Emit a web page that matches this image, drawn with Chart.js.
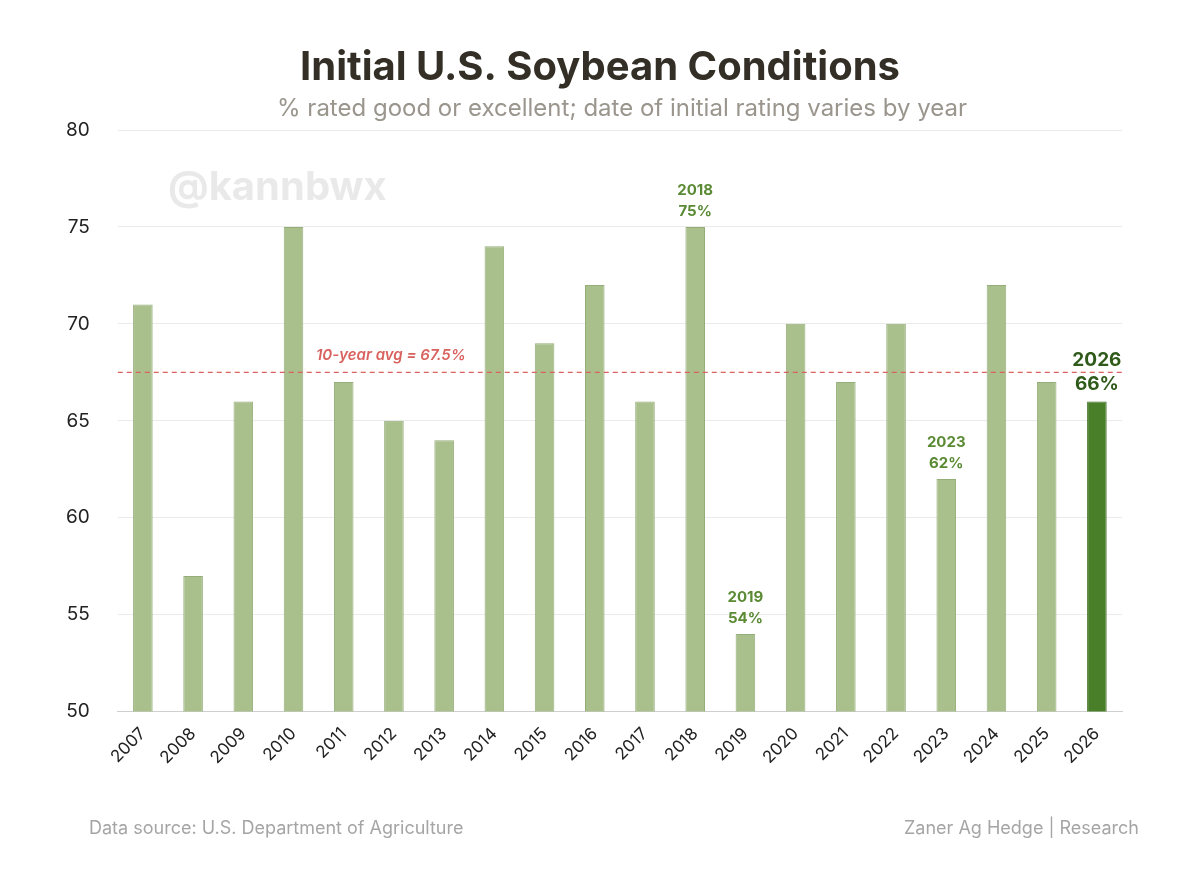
<!DOCTYPE html>
<html><head><meta charset="utf-8">
<script src="https://cdn.jsdelivr.net/npm/chart.js@4"></script>
<style>
html,body{margin:0;padding:0;background:#fff;}
#wrap{position:relative;width:1200px;height:870px;}
canvas{position:absolute;left:0;top:0;}
</style></head><body>
<div id="wrap"><canvas id="c" width="1200" height="870"></canvas></div>
<script>
const years = ["2007","2008","2009","2010","2011","2012","2013","2014","2015","2016","2017","2018","2019","2020","2021","2022","2023","2024","2025","2026"];
const values = [71,57,66,75,67,65,64,74,69,72,66,75,54,70,67,70,62,72,67,66];
const average = 67.5;
const yTicks = [50,55,60,65,70,75,80];
const highlighted = ["2018","2019","2023"];
const FONT = "Inter, 'Noto Sans', sans-serif";

const overlay = {
  id:'overlay',
  afterDraw(chart){
    const {ctx, scales:{x,y}, chartArea:a} = chart;
    ctx.save();
    ctx.fillStyle='rgba(200,200,200,0.4)';
    ctx.font='bold 40px '+FONT; ctx.textAlign='left'; ctx.textBaseline='middle';
    ctx.fillText('@kannbwx',168,188);
    const ya=y.getPixelForValue(average);
    ctx.strokeStyle='#d9625e'; ctx.lineWidth=1.3; ctx.setLineDash([5,4]);
    ctx.beginPath(); ctx.moveTo(a.left,ya); ctx.lineTo(a.right,ya); ctx.stroke();
    ctx.setLineDash([]);
    ctx.fillStyle='#d9625e'; ctx.font='italic 600 15px '+FONT; ctx.textAlign='left'; ctx.textBaseline='bottom';
    ctx.fillText('10-year avg = '+average+'%',316,ya-9);
    ctx.textAlign='center';
    years.forEach((yr,i)=>{
      const px=x.getPixelForValue(i), py=y.getPixelForValue(values[i]);
      if(highlighted.includes(yr)){
        ctx.fillStyle='#5a8a33'; ctx.font='bold 15px '+FONT;
        ctx.fillText(yr,px,py-29); ctx.fillText(values[i]+'%',px,py-8);
      } else if(i===years.length-1){
        ctx.fillStyle='#2f5a1a'; ctx.font='bold 19px '+FONT;
        ctx.fillText(yr,px,py-32); ctx.fillText(values[i]+'%',px,py-8);
      }
    });
    ctx.textBaseline='middle';
    ctx.fillStyle='#332f27'; ctx.font='bold 40px '+FONT; ctx.textAlign='center';
    ctx.fillText('Initial U.S. Soybean Conditions',600,68);
    ctx.fillStyle='#9a958d'; ctx.font='24px '+FONT;
    ctx.fillText('% rated good or excellent; date of initial rating varies by year',622,109);
    ctx.font='18px '+FONT; ctx.fillStyle='#a5a5a5';
    ctx.textAlign='left'; ctx.fillText('Data source: U.S. Department of Agriculture',89,829);
    ctx.textAlign='right'; ctx.fillText('Zaner Ag Hedge | Research',1139,829);
    ctx.restore();
  }
};

new Chart(document.getElementById('c'),{
  type:'bar',
  data:{labels:years,datasets:[{data:values,
    backgroundColor:years.map((_,i)=>i===years.length-1?'#4a7f2a':'#a9bf8c'),
    borderColor:years.map((_,i)=>i===years.length-1?'#3f6e22':'#95ad78'),
    borderWidth:1,barPercentage:0.39,categoryPercentage:1}]},
  options:{responsive:false,animation:false,
    layout:{padding:{top:130,left:38,right:78,bottom:98}},
    plugins:{legend:{display:false},tooltip:{enabled:false}},
    scales:{
      y:{min:50,max:80,afterBuildTicks(s){s.ticks=yTicks.map(v=>({value:v}));},
        grid:{color:'#ebebeb',drawTicks:false},border:{display:false},
        ticks:{color:'#222',font:{size:19,family:FONT},padding:28}},
      x:{grid:{display:false},border:{color:'#cfcfcf'},
        ticks:{color:'#222',font:{size:17,family:FONT},maxRotation:45,minRotation:45,padding:4}}
    }},
  plugins:[overlay]
});
</script></body></html>
